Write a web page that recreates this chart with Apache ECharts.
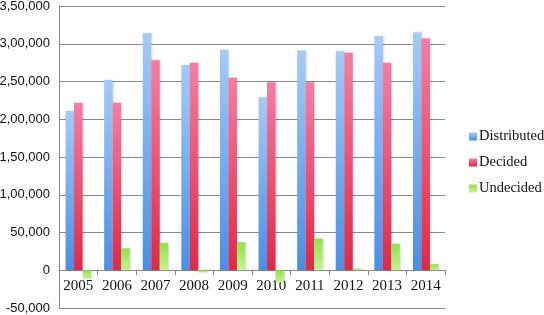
<!DOCTYPE html>
<html>
<head>
<meta charset="utf-8">
<script src="https://cdn.jsdelivr.net/npm/echarts@6/dist/echarts.min.js"></script>
<style>
  html, body { margin: 0; padding: 0; background: #fff; }
  #chart { width: 544px; height: 315px; }
</style>
</head>
<body>
<div id="chart"></div>
<script>
// data
const years = ['2005', '2006', '2007', '2008', '2009', '2010', '2011', '2012', '2013', '2014'];
const distributed = [211000, 252000, 314000, 272000, 292000, 229000, 291000, 290000, 310000, 315000];
const decided = [222000, 222000, 278000, 275000, 255000, 249000, 249000, 288000, 275000, 307000];
const undecided = [-11000, 29000, 36000, -3000, 37000, -16000, 42000, 2000, 35000, 8000];

// indian style grouping: 3,50,000
function indianFormat(v) {
    let neg = v < 0;
    let s = String(Math.abs(v));
    if (s.length > 3) {
        let last = s.slice(-3);
        let rest = s.slice(0, -3);
        rest = rest.replace(/\B(?=(\d{2})+(?!\d))/g, ',');
        s = rest + ',' + last;
    }
    return (neg ? '-' : '') + s;
}

function grad(top, bottom) {
    return new echarts.graphic.LinearGradient(0, 0, 0, 1, [
        {offset: 0, color: top},
        {offset: 1, color: bottom}
    ]);
}

let myChart = echarts.init(document.getElementById('chart'));

// x labels sit just under the zero line, so they live on a second axis pulled up by offset
let option = {
    animation: false,
    backgroundColor: '#fff',
    grid: {left: 59, right: 99, top: 6, bottom: 7, outerBounds: {left: -100, top: -100, right: -100, bottom: -100}},
    legend: {
        orient: 'vertical',
        left: 464,
        top: 124,
        itemWidth: 8,
        itemHeight: 8,
        itemGap: 11,
        icon: 'rect',
        textStyle: {fontFamily: 'Liberation Serif', fontSize: 14.5, color: '#111', padding: [0, 0, 0, -3]},
        data: ['Distributed', 'Decided', 'Undecided']
    },
    xAxis: [
        {
            type: 'category',
            data: years,
            axisLine: {onZero: true, lineStyle: {color: '#888'}},
            axisTick: {show: true, length: 5, alignWithLabel: false, lineStyle: {color: '#888'}},
            axisLabel: {show: false},
            splitLine: {show: false}
        },
        {
            type: 'category',
            data: years,
            position: 'bottom',
            offset: -37.8,
            axisLine: {show: false, onZero: false},
            axisTick: {show: false},
            axisLabel: {interval: 0, hideOverlap: false, fontFamily: 'Liberation Serif', fontSize: 15, color: '#111', margin: 8},
            splitLine: {show: false}
        }
    ],
    yAxis: {
        type: 'value',
        min: -50000,
        max: 350000,
        interval: 50000,
        axisLine: {show: true, lineStyle: {color: '#888'}},
        axisTick: {show: false},
        axisLabel: {
            fontFamily: 'Liberation Sans',
            fontSize: 13,
            color: '#111',
            margin: 9,
            formatter: v => indianFormat(v)
        },
        splitLine: {lineStyle: {color: '#8a8a8a'}}
    },
    series: [
        {
            name: 'Distributed',
            type: 'bar',
            data: distributed,
            barGap: '0%',
            barCategoryGap: '34%',
            itemStyle: {
                color: grad('#a5cbf6', '#4a8ee6'),
                shadowColor: 'rgba(0,0,0,0.15)', shadowBlur: 2, shadowOffsetX: 1
            }
        },
        {
            name: 'Decided',
            type: 'bar',
            data: decided,
            itemStyle: {
                color: grad('#f37ea3', '#dc2a48'),
                shadowColor: 'rgba(0,0,0,0.15)', shadowBlur: 2, shadowOffsetX: 1
            }
        },
        {
            name: 'Undecided',
            type: 'bar',
            data: undecided,
            itemStyle: {
                color: grad('#93e14a', '#c6f290'),
                shadowColor: 'rgba(0,0,0,0.15)', shadowBlur: 2, shadowOffsetX: 1
            }
        }
    ]
};

myChart.setOption(option);
</script>
</body>
</html>
